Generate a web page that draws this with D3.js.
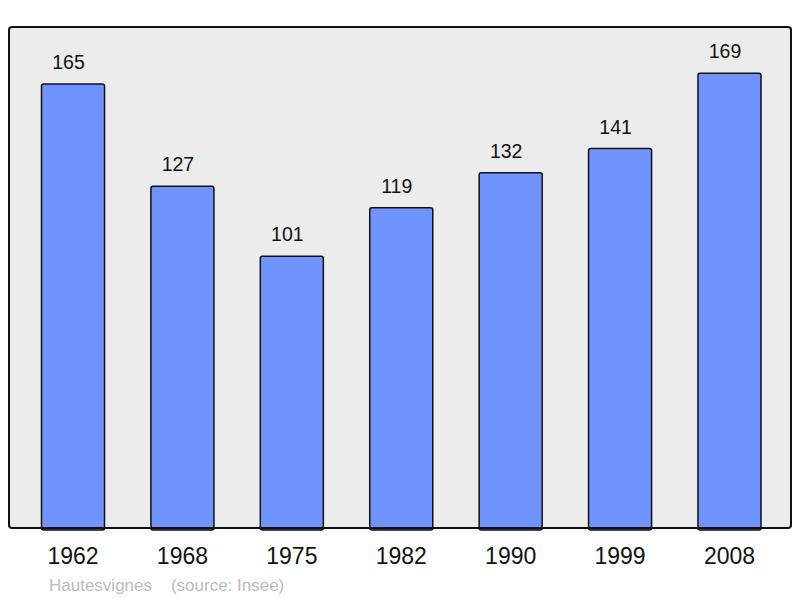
<!DOCTYPE html>
<html>
<head>
<meta charset="utf-8">
<script src="https://cdn.jsdelivr.net/npm/d3@7"></script>
<style>
  body { margin: 0; background: #fff; }
  svg { display: block; font-family: "Liberation Sans", Arial, sans-serif; }
</style>
</head>
<body>
<svg width="800" height="598"></svg>
<script>
var years = ["1962", "1968", "1975", "1982", "1990", "1999", "2008"];
var population = [165, 127, 101, 119, 132, 141, 169];
var commune = "Hautesvignes";
var source = "(source: Insee)";

var svg = d3.select('svg');

var frame = {left: 9, top: 27, right: 791, bottom: 528};

var xScale = d3.scaleBand()
  .domain(years)
  .range([18.3, 784.2])
  .paddingInner(0.424)
  .paddingOuter(0.212);

var yScale = d3.scaleLinear()
  .domain([0, 186.2])
  .range([frame.bottom, frame.top]);

// background panel
svg.append('rect')
  .attr('x', frame.left)
  .attr('y', frame.top)
  .attr('width', frame.right - frame.left)
  .attr('height', frame.bottom - frame.top)
  .attr('rx', 3)
  .attr('fill', '#ececec');

var bars = svg.append('g').attr('class', 'bars');

bars.selectAll('rect')
  .data(population)
  .enter()
  .append('rect')
  .attr('x', function(d, i){ return xScale(years[i]); })
  .attr('y', function(d){ return yScale(d); })
  .attr('width', xScale.bandwidth())
  .attr('height', function(d){ return frame.bottom - yScale(d) + 2; })
  .attr('rx', 2)
  .attr('fill', '#7094ff')
  .attr('stroke', '#111')
  .attr('stroke-width', 1.5);

// value labels sit a little left of the bar centre, as in the original
bars.selectAll('text')
  .data(population)
  .enter()
  .append('text')
  .attr('x', function(d, i){ return xScale(years[i]) + xScale.bandwidth() / 2 - 4.5; })
  .attr('y', function(d){ return yScale(d) - 15; })
  .attr('text-anchor', 'middle')
  .attr('font-size', 19.5)
  .attr('fill', '#111')
  .text(function(d){ return d; });

// frame border drawn over the bars
svg.append('rect')
  .attr('x', frame.left)
  .attr('y', frame.top)
  .attr('width', frame.right - frame.left)
  .attr('height', frame.bottom - frame.top)
  .attr('rx', 3)
  .attr('fill', 'none')
  .attr('stroke', '#111')
  .attr('stroke-width', 2);

var xAxis = svg.append('g')
  .attr('transform', 'translate(0,' + frame.bottom + ')')
  .call(d3.axisBottom(xScale).tickSize(0).tickPadding(20));
xAxis.select('.domain').remove();
xAxis.selectAll('text')
  .attr('font-size', 23)
  .attr('font-family', '"Liberation Sans", Arial, sans-serif')
  .attr('fill', '#111');

svg.append('text')
  .attr('x', 49)
  .attr('y', 590.5)
  .attr('font-size', 17)
  .attr('fill', '#bbb')
  .attr('xml:space', 'preserve')
  .text(commune + '    ' + source);
</script>
</body>
</html>
